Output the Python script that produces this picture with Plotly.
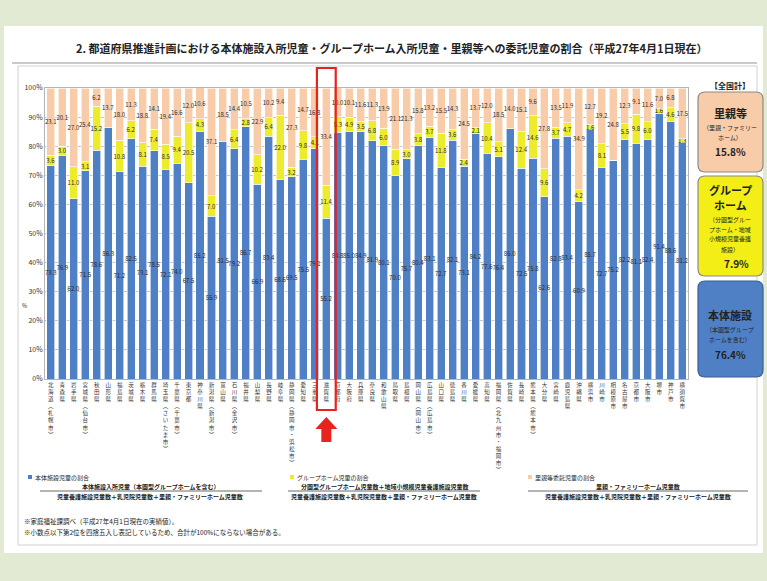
import plotly.graph_objects as go

categories = [
    "北海道︵札幌市︶", "青森県", "岩手県", "宮城県︵仙台市︶", "秋田県", "山形県", "福島県", "茨城県",
    "栃木県", "群馬県", "埼玉県︵さいたま市︶", "千葉県︵千葉市︶", "東京都", "神奈川県",
    "新潟県︵新潟市︶", "富山県", "石川県︵金沢市︶", "福井県", "山梨県", "長野県", "岐阜県",
    "静岡県︵静岡市・浜松市︶", "愛知県", "三重県", "滋賀県", "京都府", "大阪府", "兵庫県", "奈良県",
    "和歌山県", "鳥取県", "島根県", "岡山県︵岡山市︶", "広島県︵広島市︶", "山口県", "徳島県", "香川県",
    "愛媛県", "高知県", "福岡県︵北九州市・福岡市︶", "佐賀県", "長崎県", "熊本県︵熊本市︶", "大分県",
    "宮崎県", "鹿児島県", "沖縄県", "横浜市", "川崎市", "相模原市", "名古屋市", "京都市", "大阪市",
    "堺市", "神戸市", "横須賀市",
]

honntai = [73.3, 76.9, 62.0, 71.5, 78.6, 86.3, 71.2, 82.5, 73.1, 78.5, 72.1, 74.0, 67.5,
           85.2, 55.9, 81.5, 79.2, 86.7, 66.9, 83.4, 68.6, 69.5, 75.5, 79.1, 55.2,
           84.8, 85.0, 84.9, 81.9, 80.1, 70.0, 75.7, 80.4, 83.1, 72.7, 82.1, 73.1, 84.2, 77.6, 76.4, 86.0,
           72.5, 75.8, 62.6, 82.8, 83.4, 60.9, 85.7, 72.7, 75.2, 82.2, 81.1, 82.4, 91.4, 88.6, 81.2]
group_home = [3.6, 3.0, 11.0, 3.1, 15.2, 0, 10.8, 6.2, 8.1, 7.4, 8.5, 9.4, 20.5,
              4.3, 7.0, 0, 6.4, 2.8, 10.2, 6.4, 22.0, 3.2, 9.8, 4.1, 11.4,
              5.3, 4.9, 3.5, 6.8, 6.0, 8.9, 3.0, 3.8, 3.7, 11.8, 3.6, 2.4, 2.1, 10.4, 5.1, 0,
              12.4, 14.6, 9.6, 3.7, 4.7, 4.2, 1.6, 8.1, 0, 5.5, 9.8, 6.0, 1.6, 4.6, 1.3]
satooya = [23.1, 20.1, 27.0, 25.4, 6.2, 13.7, 18.0, 11.3, 18.8, 14.1, 19.4, 16.6, 12.0,
           10.6, 37.1, 18.5, 14.4, 10.5, 22.9, 10.2, 9.4, 27.3, 14.7, 16.8, 33.4,
           10.0, 10.1, 11.6, 11.3, 13.9, 21.1, 21.3, 15.8, 13.2, 15.5, 14.3, 24.5, 13.7, 12.0, 18.5, 14.0,
           15.1, 9.6, 27.8, 13.5, 11.9, 34.9, 12.7, 19.2, 24.8, 12.3, 9.1, 11.6, 7.0, 6.8, 17.5]
y_ticks = [0, 10, 20, 30, 40, 50, 60, 70, 80, 90, 100]
y_tick_labels = [f"{v}%" for v in y_ticks]
highlight = "滋賀県"

W, H = 767, 581
PL, PR, PT, PB = 45, 688, 88, 379
FONT = "Noto Sans CJK JP"


def px(x):
    return (x - PL) / (PR - PL)


def py(y):
    return (PB - y) / (PB - PT)


def vert(s):
    return "<br>".join(list(s))


def rrect(x0, y0, x1, y1, r):
    rx = r / (PR - PL)
    ry = r / (PB - PT)
    X0, X1 = px(x0), px(x1)
    Y0, Y1 = py(y0), py(y1)
    return (f"M {X0+rx},{Y0} L {X1-rx},{Y0} Q {X1},{Y0} {X1},{Y0-ry} "
            f"L {X1},{Y1+ry} Q {X1},{Y1} {X1-rx},{Y1} L {X0+rx},{Y1} "
            f"Q {X0},{Y1} {X0},{Y1+ry} L {X0},{Y0-ry} Q {X0},{Y0} {X0+rx},{Y0} Z")


ticktext = [vert(c) for c in categories]
BLUE, YEL, PEACH = "#4f80c6", "#ecec2c", "#f8cba9"


def txt(vals):
    return [f"{v:.1f}" if v > 0 else "" for v in vals]


fig = go.Figure()
for name, vals, col in [("本体施設", honntai, BLUE), ("グループホーム", group_home, YEL), ("里親等", satooya, PEACH)]:
    fig.add_trace(go.Bar(
        x=categories, y=vals, name=name, marker=dict(color=col, line=dict(color="#ffffff", width=0.6)),
        width=0.7, text=txt(vals), textposition="inside", insidetextanchor="middle",
        textangle=0, constraintext="none",
        textfont=dict(size=6, color="#2a2a2a", family=FONT),
        hoverinfo="skip",
    ))

shapes = []
shapes.append(dict(type="rect", xref="paper", yref="paper", x0=px(4), x1=px(763), y0=py(26), y1=py(553),
                   fillcolor="white", line=dict(width=0), layer="below"))
shapes.append(dict(type="rect", xref="paper", yref="paper", x0=px(18), x1=px(757), y0=py(66), y1=py(545),
                   fillcolor="rgba(0,0,0,0)", line=dict(color="#d2d2d2", width=1), layer="below"))
shapes.append(dict(type="line", xref="paper", yref="paper", x0=px(12), x1=px(757), y0=py(63), y1=py(63),
                   line=dict(color="#c9c9c9", width=2), layer="below"))
for (y0, y1, fill, border) in [(92, 172, PEACH, "#8a8a8a"), (176, 276, "#f3ef16", "#8a8a8a"), (281, 377, "#4f80c6", "#3a5f8f")]:
    shapes.append(dict(type="path", xref="paper", yref="paper", path=rrect(698, y0, 763, y1, 7),
                       fillcolor=fill, line=dict(color=border, width=1.2)))
hi = categories.index(highlight)
shapes.append(dict(type="rect", xref="x", yref="paper", x0=hi - 0.82, x1=hi + 0.82, y0=py(410), y1=py(68),
                   line=dict(color="#e8221c", width=2.2), fillcolor="rgba(0,0,0,0)"))
cx = PL + (hi + 0.5) * (PR - PL) / len(categories)
arrow = [(cx, 417), (cx + 11, 429), (cx + 5, 429), (cx + 5, 442), (cx - 5, 442), (cx - 5, 429), (cx - 11, 429)]
path = "M " + " L ".join(f"{px(a)},{py(b)}" for a, b in arrow) + " Z"
shapes.append(dict(type="path", xref="paper", yref="paper", path=path, fillcolor="#e8221c", line=dict(width=0)))

LY = 477  # legend header row
for (x, col) in [(28, BLUE), (290, YEL), (528, PEACH)]:
    shapes.append(dict(type="rect", xref="paper", yref="paper", x0=px(x), x1=px(x + 4), y0=py(LY + 2), y1=py(LY - 2),
                       fillcolor=col, line=dict(width=0)))
for (x0, x1) in [(40, 262), (288, 480), (528, 748)]:
    shapes.append(dict(type="line", xref="paper", yref="paper", x0=px(x0), x1=px(x1), y0=py(LY + 14), y1=py(LY + 14),
                       line=dict(color="#444", width=0.8)))

ann = []


def A(x, y, t, size=7, anchor="left", bold=False, color="#222"):
    ann.append(dict(xref="paper", yref="paper", x=px(x), y=py(y), text=(f"<b>{t}</b>" if bold else t),
                    showarrow=False, xanchor=anchor, yanchor="middle",
                    font=dict(size=size, color=color, family=FONT)))


A(392, 48, "2. 都道府県推進計画における本体施設入所児童・グループホーム入所児童・里親等への委託児童の割合（平成27年4月1日現在）",
  size=11, anchor="center", bold=True)
A(24, 306, "%", size=5.5, anchor="center")
A(730, 85, "【全国計】", size=8, anchor="center", bold=True)
A(730, 113, "里親等", 11, "center", True)
A(730, 127, "（里親・ファミリー", 6, "center")
A(730, 137, "ホーム）", 6, "center")
A(730, 151, "15.8%", 10, "center", True)
A(730, 190, "グループ", 11, "center", True)
A(730, 205, "ホーム", 11, "center", True)
A(730, 219, "（分園型グルー", 6, "center")
A(730, 229, "プホーム・地域", 6, "center")
A(730, 239, "小規模児童養護", 6, "center")
A(730, 249, "施設）", 6, "center")
A(737, 263, "7.9%", 10, "center", True)
A(730, 315, "本体施設", 11, "center", True)
A(730, 329, "（本園型グループ", 6, "center")
A(730, 339, "ホームを含む）", 6, "center")
A(730, 354, "76.4%", 10, "center", True)

A(33, LY, "本体施設児童の割合", 6)
A(150, LY + 9, "本体施設入所児童（本園型グループホームを含む）", 6, "center", True)
A(150, LY + 19, "児童養護施設児童数＋乳児院児童数＋里親・ファミリーホーム児童数", 6, "center", True)
A(295, LY, "グループホーム児童の割合", 6)
A(384, LY + 9, "分園型グループホーム児童数＋地域小規模児童養護施設児童数", 6, "center", True)
A(384, LY + 19, "児童養護施設児童数＋乳児院児童数＋里親・ファミリーホーム児童数", 6, "center", True)
A(533, LY, "里親等委託児童の割合", 6)
A(638, LY + 9, "里親・ファミリーホーム児童数", 6, "center", True)
A(638, LY + 19, "児童養護施設児童数＋乳児院児童数＋里親・ファミリーホーム児童数", 6, "center", True)
A(22, 521, "※家庭福祉課調べ（平成27年4月1日現在の実績値）。", 6.5)
A(22, 532, "※小数点以下第2位を四捨五入し表記しているため、合計が100%にならない場合がある。", 6.5)

fig.update_layout(
    width=W, height=H, barmode="stack", bargap=0.3, showlegend=False,
    margin=dict(l=PL, r=W - PR, t=PT, b=H - PB, pad=0),
    paper_bgcolor="#e2ead3", plot_bgcolor="#ffffff",
    shapes=shapes, annotations=ann,
    font=dict(family=FONT),
)
fig.update_xaxes(type="category", tickmode="array", tickvals=categories, ticktext=ticktext,
                 tickangle=0, tickfont=dict(size=5.5, color="#333", family=FONT),
                 showline=True, linecolor="#b5b5b5", mirror=True, showgrid=False, ticks="")
fig.update_yaxes(range=[0, 100], tickmode="array", tickvals=y_ticks, ticktext=y_tick_labels,
                 tickfont=dict(size=7, color="#333"),
                 showgrid=True, gridcolor="#c8c8c8", gridwidth=0.6, showline=True, linecolor="#b5b5b5",
                 mirror=True, zeroline=False, ticks="")

fig.write_html("out.html")
